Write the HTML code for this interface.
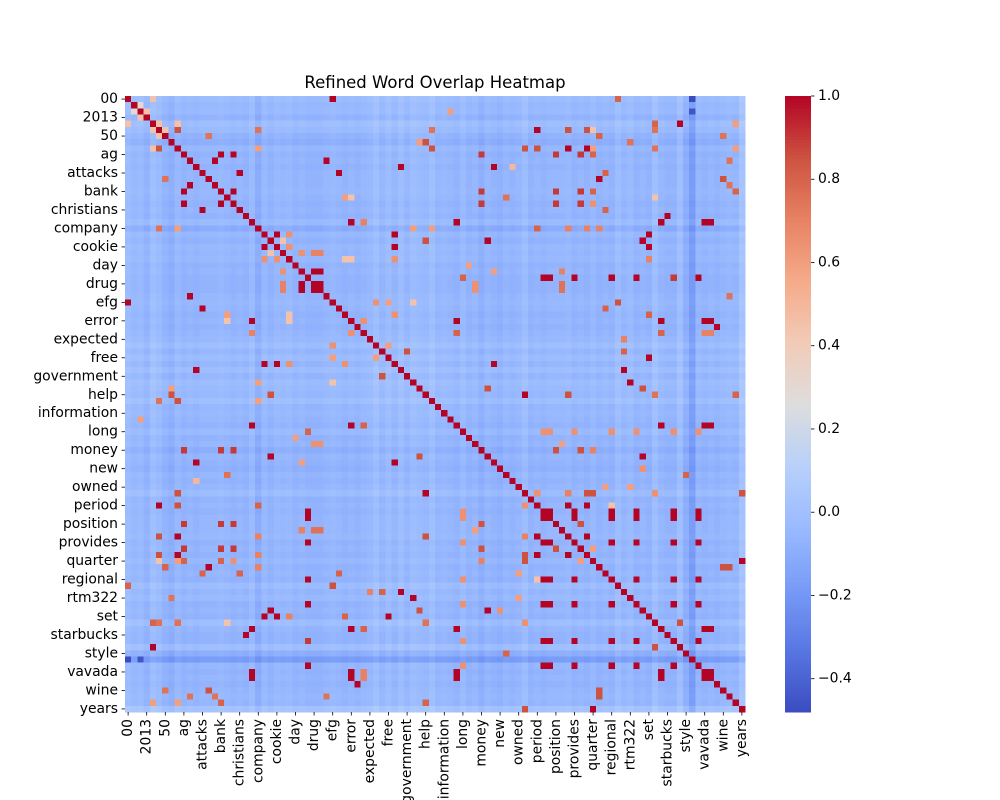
<!DOCTYPE html>
<html><head><meta charset="utf-8"><style>
html,body{margin:0;padding:0;background:#fff;}
svg{display:block;font-family:"DejaVu Sans","Liberation Sans",sans-serif;}
</style></head><body>
<svg id="chart" width="1000" height="800" viewBox="0 0 1000 800" xmlns="http://www.w3.org/2000/svg">
<text x="435" y="88" text-anchor="middle" font-size="16.5">Refined Word Overlap Heatmap</text>
<g id="cells" shape-rendering="crispEdges"></g>
<g id="yaxis"></g>
<g id="xaxis"></g>
<g id="cbar"></g>
</svg>
<script>
const tickLabels = ["00","2013","50","ag","attacks","bank","christians","company","cookie","day","drug","efg","error","expected","free","government","help","information","long","money","new","owned","period","position","provides","quarter","regional","rtm322","set","starbucks","style","vavada","wine","years"];
const nCells = 100;
const vMin = -0.48, vMax = 1.0;
const cbTicks = [1.0,0.8,0.6,0.4,0.2,0.0,-0.2,-0.4];
const rowBase = [
0.02,-0.03,-0.01,-0.08,0.04,-0.01,-0.08,-0.13,-0.03,-0.08,
-0.05,-0.08,-0.05,-0.05,-0.05,-0.03,-0.05,-0.08,-0.05,-0.08,
-0.01,-0.15,-0.03,-0.08,-0.03,-0.05,-0.03,-0.08,-0.05,-0.08,
-0.08,-0.08,-0.05,-0.03,-0.05,-0.08,-0.05,-0.08,-0.05,-0.03,
0.04,-0.05,0.02,-0.05,0.03,-0.05,0.02,-0.01,-0.03,0.04,
-0.05,-0.03,-0.05,-0.08,-0.01,-0.08,-0.05,-0.13,-0.05,-0.08,
-0.11,-0.05,-0.08,-0.05,0.02,-0.08,-0.05,-0.08,-0.05,-0.05,
-0.05,-0.03,-0.08,-0.05,-0.08,-0.03,-0.08,-0.05,-0.08,0.02,
-0.05,-0.01,-0.08,-0.05,-0.08,0.04,-0.05,-0.08,-0.08,0.04,
-0.13,-0.3,-0.05,-0.08,-0.05,-0.08,-0.05,-0.03,-0.05,0.1];
const pairs = [
[0,33,1],[0,4,0.45],[1,2,0.3],[2,3,0.45],[4,5,0.45],[4,8,0.45],[5,8,0.85],[5,21,0.75],[5,49,0.75],[6,13,0.75],[7,47,0.6],[7,48,0.85],[8,21,0.6],[8,49,0.85],[9,15,1],[9,17,1],[10,14,1],[10,32,1],[11,44,1],[12,18,1],[12,34,1],[15,17,1],[16,35,0.6],[16,36,0.45],[20,36,1],[20,38,0.7],[21,46,0.6],[21,49,0.6],[22,24,1],[22,26,0.65],[22,43,1],[23,25,0.45],[24,26,0.65],[24,43,1],[25,28,0.65],[25,30,0.7],[25,31,0.7],[26,35,0.45],[26,36,0.45],[26,43,0.65],[28,30,1],[28,31,1],[30,31,1],[33,40,0.65],[33,42,0.6],[33,46,0.45],[35,43,0.65],[36,38,0.65],[40,42,0.6],[41,45,0.85],[23,48,0.85],[5,6,0.45],
[0,79,0.8],[0,91,-0.48],[2,91,-0.45],[2,52,0.6],[4,85,0.8],[4,89,1],[4,98,0.6],[5,66,1],[5,71,0.85],[5,74,0.85],[5,75,0.45],[5,85,0.75],[6,76,0.8],[6,96,0.75],[7,81,0.75],[8,64,0.85],[8,66,0.85],[8,71,1],[8,74,1],[8,75,0.6],[8,85,0.75],[8,98,0.6],[9,57,0.9],[9,69,0.9],[9,73,0.9],[9,75,0.8],[10,97,0.75],[11,59,1],[11,62,0.5],[12,77,0.8],[13,76,1],[13,96,0.85],[14,97,0.75],[15,57,0.9],[15,69,0.9],[15,73,0.9],[15,75,0.8],[15,98,0.8],[16,61,0.75],[16,85,0.45],[17,57,0.9],[17,69,0.9],[17,73,0.9],[17,75,0.65],[18,77,0.8],[19,87,1],[20,53,1],[20,86,1],[20,93,1],[20,94,1],[21,66,0.8],[21,71,0.7],[21,74,0.7],[21,76,0.7],[22,84,1],[23,58,1],[23,83,1],[24,84,1],[26,84,0.7],[27,55,0.6],[28,70,0.7],[28,59,0.6],[29,54,0.8],[29,67,1],[29,68,1],[29,72,1],[29,78,1],[29,82,1],[29,88,0.9],[29,92,1],[30,56,0.65],[30,70,0.75],[31,56,0.65],[31,70,0.75],[32,97,0.75],[33,79,0.85],[34,77,0.8],[35,84,0.8],[36,53,1],[36,86,1],[36,93,1],[36,94,1],[37,95,1],[38,53,0.8],[38,86,0.8],[38,93,0.7],[38,94,0.7],[39,80,0.7],[41,80,0.8],[42,84,1],[43,59,1],[44,80,1],[46,81,1],[47,58,0.85],[47,83,0.85],[48,64,1],[48,71,0.85],[48,85,0.75],[48,98,0.8],
[53,86,1],[53,93,1],[53,94,1],[54,67,0.65],[54,68,0.65],[54,72,0.65],[54,78,0.65],[54,82,0.65],[54,88,0.65],[54,92,0.65],[56,70,0.6],[57,69,0.85],[57,73,0.85],[57,75,0.7],[58,83,1],[60,83,0.65],[61,90,0.8],[63,77,0.6],[63,81,0.6],[64,66,0.65],[64,71,0.7],[64,74,0.85],[64,75,0.85],[64,85,0.65],[64,99,0.85],[66,71,1],[66,74,1],[66,78,0.45],[67,68,1],[67,72,1],[67,78,1],[67,82,1],[67,88,1],[67,92,1],[68,72,1],[68,78,1],[68,82,1],[68,88,1],[68,92,1],[69,73,0.85],[71,74,1],[72,78,1],[72,82,1],[72,88,1],[72,92,1],[73,75,0.6],[75,99,1],[76,96,0.85],[76,97,0.85],[78,82,1],[78,88,1],[78,92,1],[82,88,1],[82,92,1],[85,89,0.85],[86,93,1],[86,94,1],[88,92,1],[93,94,1]];

const NS = "http://www.w3.org/2000/svg";
const X0 = 125, Y0 = 96, W = 620, H = 616;
const cw = W / nCells, ch = H / nCells;
const xPos = i => X0 + i * cw;
const yPos = i => Y0 + i * ch;
const stops = [[59,76,192],[88,118,226],[120,155,247],[154,186,255],[184,208,249],[221,221,221],[242,203,183],[245,171,138],[231,130,99],[205,82,64],[180,4,38]];
function color(v){
  let t = (v - vMin) / (vMax - vMin); t = Math.max(0, Math.min(1, t));
  const p = t * 10, k = Math.min(9, Math.floor(p)), f = p - k;
  const a = stops[k], b = stops[k+1];
  return "rgb(" + a.map((c,q)=>Math.round(c + (b[q]-c)*f)).join(",") + ")";
}
const M = [];
for (let i = 0; i < nCells; i++) { M.push([]); for (let j = 0; j < nCells; j++) M[i].push(i===j ? 1 : (rowBase[i] + rowBase[j]) / 2); }
pairs.forEach(([i,j,v]) => { M[i][j] = v; M[j][i] = v; });

const gCells = document.getElementById("cells");
for (let i = 0; i < nCells; i++) for (let j = 0; j < nCells; j++) {
  const r = document.createElementNS(NS, "rect");
  
  
  r.setAttribute("x", xPos(j).toFixed(2)); r.setAttribute("y", yPos(i).toFixed(2));
  r.setAttribute("width", (cw + 0.4).toFixed(2)); r.setAttribute("height", (ch + 0.4).toFixed(2));
  r.setAttribute("fill", color(M[i][j]));
  gCells.appendChild(r);
}
const gy = document.getElementById("yaxis"), gx = document.getElementById("xaxis");
tickLabels.forEach((lab, k) => {
  const idx = k * 3;
  const cy = yPos(idx) + ch / 2, cx = xPos(idx) + cw / 2;
  const t1 = document.createElementNS(NS, "line");
  
  
  t1.setAttribute("x1", X0 - 3.5); t1.setAttribute("x2", X0); t1.setAttribute("y1", cy); t1.setAttribute("y2", cy); t1.setAttribute("stroke", "#000"); t1.setAttribute("stroke-width", "0.8");
  gy.appendChild(t1);
  const ty = document.createElementNS(NS, "text");
  
  
  ty.setAttribute("x", X0 - 7); ty.setAttribute("y", cy); ty.setAttribute("text-anchor", "end"); ty.setAttribute("dominant-baseline", "central"); ty.setAttribute("font-size", "13.9");
  ty.textContent = lab; gy.appendChild(ty);
  const t2 = document.createElementNS(NS, "line");
  
  
  t2.setAttribute("x1", cx); t2.setAttribute("x2", cx); t2.setAttribute("y1", Y0 + H); t2.setAttribute("y2", Y0 + H + 3.5); t2.setAttribute("stroke", "#000"); t2.setAttribute("stroke-width", "0.8");
  gx.appendChild(t2);
  const tx = document.createElementNS(NS, "text");
  
  
  tx.setAttribute("transform", "translate(" + cx + "," + (Y0 + H + 7) + ") rotate(-90)");
  tx.setAttribute("text-anchor", "end"); tx.setAttribute("dominant-baseline", "central"); tx.setAttribute("font-size", "13.9");
  tx.textContent = lab; gx.appendChild(tx);
});
const gc = document.getElementById("cbar");
const CX = 785, CW = 26, steps = 200;
for (let s = 0; s < steps; s++) {
  const v = vMin + (vMax - vMin) * (s + 0.5) / steps;
  const r = document.createElementNS(NS, "rect");
  
  
  r.setAttribute("x", CX); r.setAttribute("y", (Y0 + H - (s + 1) * H / steps).toFixed(2));
  r.setAttribute("width", CW); r.setAttribute("height", (H / steps + 0.5).toFixed(2)); r.setAttribute("fill", color(v));
  gc.appendChild(r);
}
const cbY = v => Y0 + H - (v - vMin) / (vMax - vMin) * H;
cbTicks.forEach(v => {
  const y = cbY(v);
  const l = document.createElementNS(NS, "line");
  
  
  l.setAttribute("x1", CX + CW); l.setAttribute("x2", CX + CW + 3.5); l.setAttribute("y1", y); l.setAttribute("y2", y); l.setAttribute("stroke", "#000"); l.setAttribute("stroke-width", "0.8");
  gc.appendChild(l);
  const t = document.createElementNS(NS, "text");
  
  
  t.setAttribute("x", CX + CW + 7); t.setAttribute("y", y); t.setAttribute("dominant-baseline", "central"); t.setAttribute("font-size", "13.9");
  t.textContent = (v < 0 ? "\u2212" : "") + Math.abs(v).toFixed(1);
  gc.appendChild(t);
});
</script>
</body></html>
